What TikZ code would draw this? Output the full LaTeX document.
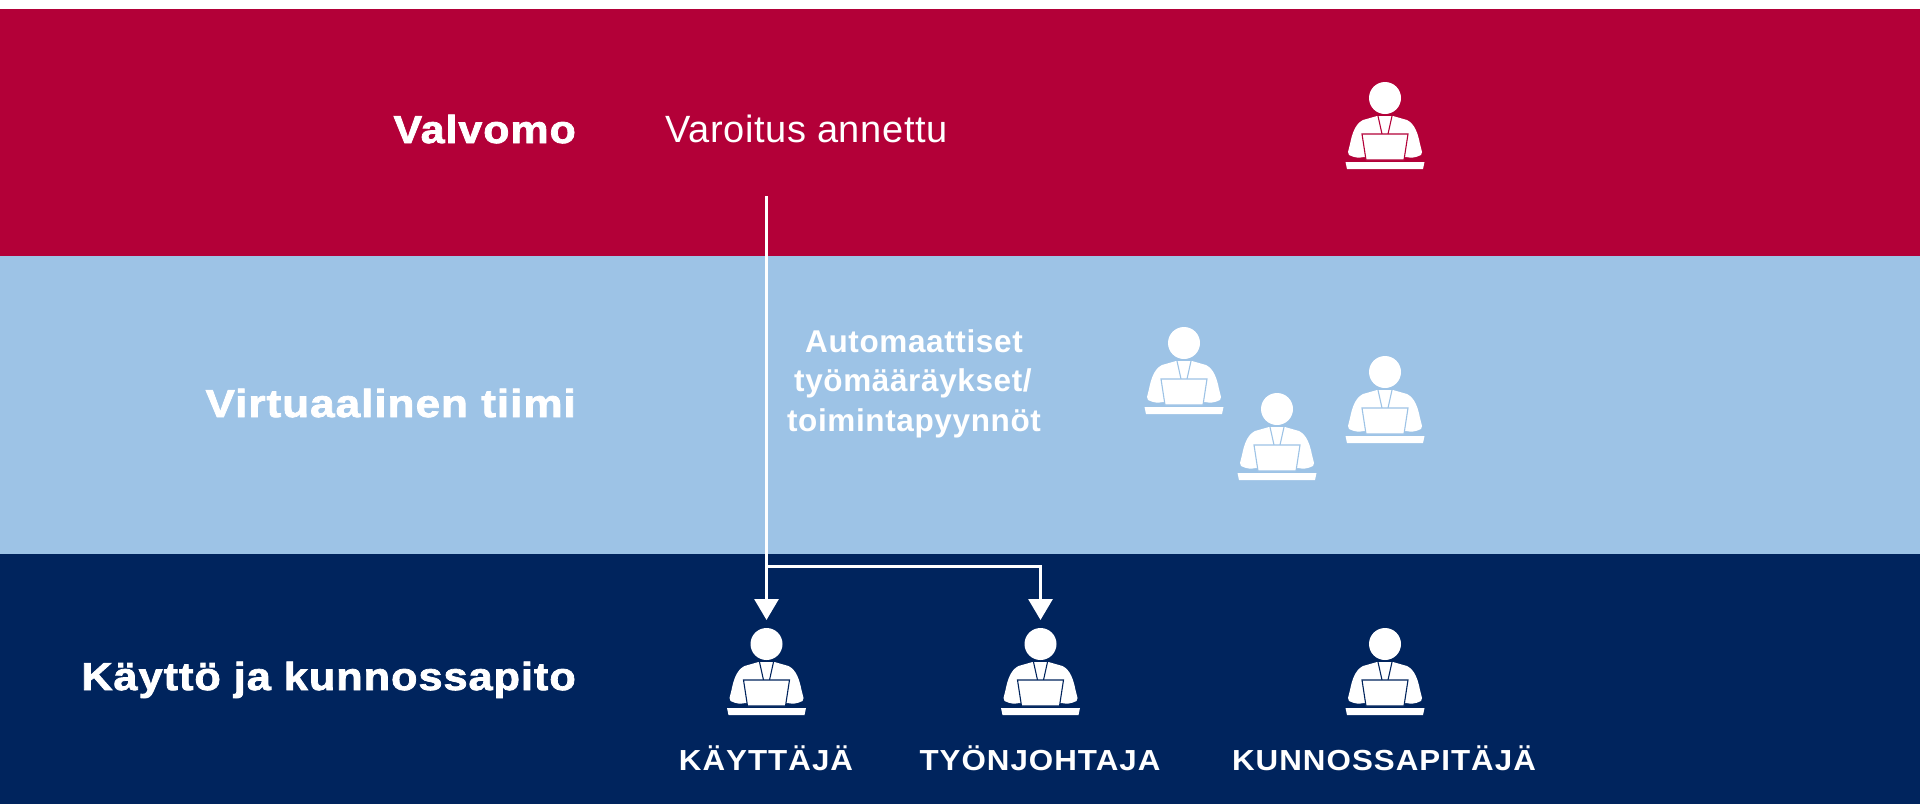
\documentclass[tikz,border=0pt]{standalone}
\usepackage{fontspec}
\setmainfont{Liberation Sans}
\newfontfamily\heavyfont[FakeBold=2,FakeStretch=1.1,LetterSpace=2.5]{Liberation Sans Bold}
\newfontfamily\rolefont[FakeStretch=1.08,LetterSpace=3.5]{Liberation Sans Bold}
\usetikzlibrary{arrows.meta}
\definecolor{redband}{HTML}{B30038}
\definecolor{blueband}{HTML}{9DC3E6}
\definecolor{navyband}{HTML}{00245D}
\newcommand{\wide}[2]{\scalebox{#1}[1]{#2}}
\tikzset{
  band/.style={fill=#1,draw=none},
  rowlabel/.style={anchor=base east,text=white,inner sep=0pt,font=\heavyfont\fontsize{39}{39}\selectfont},
  rolelabel/.style={anchor=base,text=white,inner sep=0pt,font=\rolefont\fontsize{29}{29}\selectfont},
  autolabel/.style={anchor=base,text=white,inner sep=0pt,font=\bfseries\fontsize{31.5}{31.5}\selectfont\addfontfeature{LetterSpace=2}},
  infolabel/.style={anchor=base,text=white,inner sep=0pt,font=\fontsize{38}{38}\selectfont\addfontfeature{LetterSpace=1.5}},
  link/.style={draw=white,line width=3pt},
  linkhead/.style={link,-{Triangle[width=24pt,length=21pt,fill=white]}},
  person/.pic={
    \fill[white] (0,0) circle (16);
    \fill[white] (-8,18) -- (-22,22) .. controls (-30,26) and (-33,36) .. (-35,46) -- (-37,54) -- (-36,57) .. controls (-30,60) and (-26,60) .. (-21,59) -- (21,59) .. controls (26,60) and (30,60) .. (36,57) -- (37,54) -- (35,46) .. controls (33,36) and (30,26) .. (22,22) -- (8,18) -- cycle;
    \draw[#1,line width=1.1pt] (-7,18) -- (-3,36) (7,18) -- (3,36);
    \fill[white] (-2.2,18.5) -- (2.2,18.5) -- (1.4,23) -- (-1.4,23) -- cycle;
    \fill[white] (-1.5,24) -- (1.5,24) -- (3,32) -- (0,36) -- (-3,32) -- cycle;
    \fill[white,draw=#1,line width=1.1pt] (-23,36) -- (23,36) -- (19,62) -- (-19,62) -- cycle;
    \fill[white] (-39.5,64) -- (39.5,64) -- (38,71) -- (-38,71) -- cycle;
    \coordinate (-top) at (0,-24);
  },
}
\begin{document}
\begin{tikzpicture}[x=1pt,y=-1pt]
\useasboundingbox (0,0) rectangle (1920,804);
\fill[white] (0,0) rectangle (1920,9);
\fill[band=redband] (0,9) rectangle (1920,256);
\fill[band=blueband] (0,256) rectangle (1920,554);
\fill[band=navyband] (0,554) rectangle (1920,804);

\node[rowlabel] (valvomo) at (576,143) {Valvomo};
\node[rowlabel] (virtuaalinen) at (576,417) {\wide{1.027}{Virtuaalinen tiimi}};
\node[rowlabel] (kaytto) at (576,690) {\wide{1.008}{Käyttö ja kunnossapito}};

\node[infolabel] (varoitus) at (806.5,142) {Varoitus annettu};
\node[autolabel] (auto1) at (914,352) {Automaattiset};
\node[autolabel] (auto2) at (913,391) {työmääräykset/};
\node[autolabel] (auto3) at (914,431) {toimintapyynnöt};

\pic (pv) at (1385,98) {person=redband};
\pic (pa) at (1184,343) {person=blueband};
\pic (pb) at (1277,409) {person=blueband};
\pic (pc) at (1385,372) {person=blueband};
\pic (pk) at (766.5,644) {person=navyband};
\pic (pt) at (1040.5,644) {person=navyband};
\pic (pu) at (1385,644) {person=navyband};

\node[rolelabel] (kayttaja) at (766,770) {KÄYTTÄJÄ};
\node[rolelabel] (tyonjohtaja) at (1040,770) {TYÖNJOHTAJA};
\node[rolelabel] (kunnossapitaja) at (1384,770) {KUNNOSSAPITÄJÄ};

\coordinate (start) at (766.5,196);
\coordinate (branch) at (766.5,566);
\draw[linkhead] (start) -- (pk-top);
\draw[linkhead] (branch) -| (pt-top);
\end{tikzpicture}
\end{document}
